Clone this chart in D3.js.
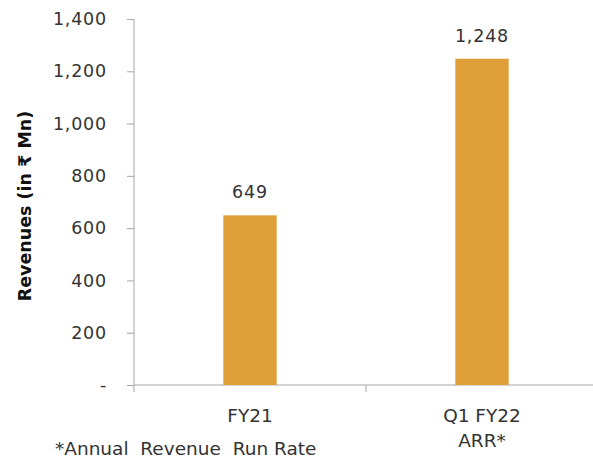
<!DOCTYPE html>
<html>
<head>
<meta charset="utf-8">
<script src="https://cdn.jsdelivr.net/npm/d3@7"></script>
<style>
  html, body { margin: 0; padding: 0; background: #fff; overflow: hidden; }
  svg { display: block; font-family: "DejaVu Sans", "Noto Sans", sans-serif; }
</style>
</head>
<body>
<div id="chart"></div>
<script>
const categories = [["FY21"], ["Q1 FY22", "ARR*"]];
const revenues = [649, 1248];
const yTicks = [0, 200, 400, 600, 800, 1000, 1200, 1400];
const yTitle = "Revenues (in ₹ Mn)";
const footnote = "*Annual  Revenue  Run Rate";

const width = 593;
const height = 463;
const margin = { top: 19, right: 0, bottom: 78, left: 134 };
const innerWidth = width - margin.left - margin.right;
const innerHeight = height - margin.top - margin.bottom;

const svg = d3
  .select("#chart")
  .append("svg")
  .attr("width", width)
  .attr("height", height);

const chart = svg
  .append("g")
  .attr("transform", `translate(${margin.left}, ${margin.top})`);

// categories are split evenly over the plot width plus a few pixels past the edge
const bandWidth = 232;

const band = d3
  .scaleBand()
  .domain(categories.map((c) => c.join(" ")))
  .range([0, bandWidth * categories.length]);

const x = d3
  .scaleBand()
  .domain(band.domain())
  .range(band.range())
  .paddingInner(0.77)
  .paddingOuter(0.385);

const y = d3.scaleLinear().domain([0, 1400]).range([innerHeight, 0]);

const fmt = d3.format(",");
const axisColor = "#a6a6a6";
const textColor = "#333";

// y axis
chart
  .append("g")
  .call(
    d3.axisLeft(y)
      .tickValues(yTicks)
      .tickSize(7)
      .tickPadding(20)
      .tickFormat((v) => (v === 0 ? "-" : fmt(v))),
  )
  .call((g) => g.select(".domain").attr("stroke", axisColor).attr("d", `M0,0V${innerHeight + 7}`))
  .call((g) => g.selectAll(".tick line").attr("stroke", axisColor))
  .call((g) =>
    g.selectAll("text")
      .attr("fill", textColor)
      .attr("font-size", 17.5)
      .attr("letter-spacing", 0.8)
      .attr("font-family", "DejaVu Sans"),
  );

// x axis
const xAxis = chart
  .append("g")
  .attr("transform", `translate(0, ${innerHeight})`);

xAxis
  .append("line")
  .attr("x1", 0)
  .attr("x2", innerWidth)
  .attr("stroke", axisColor);

xAxis
  .selectAll("line.tick")
  .data(band.domain().slice(1))
  .enter()
  .append("line")
  .attr("class", "tick")
  .attr("x1", (d) => band(d))
  .attr("x2", (d) => band(d))
  .attr("y2", 7)
  .attr("stroke", axisColor);

xAxis
  .selectAll("text.cat")
  .data(categories)
  .enter()
  .append("text")
  .attr("class", "cat")
  .attr("text-anchor", "middle")
  .attr("fill", textColor)
  .attr("font-size", 18.5)
  .attr("transform", (c) => `translate(${band(c.join(" ")) + band.bandwidth() / 2}, 37)`)
  .selectAll("tspan")
  .data((c) => c)
  .enter()
  .append("tspan")
  .attr("x", 0)
  .attr("y", (d, i) => i * 25)
  .text((d) => d);

// bars
chart
  .selectAll("rect.bar")
  .data(revenues)
  .enter()
  .append("rect")
  .attr("class", "bar")
  .attr("x", (d, i) => x(categories[i].join(" ")))
  .attr("y", (d) => y(d))
  .attr("width", x.bandwidth())
  .attr("height", (d) => innerHeight - y(d))
  .attr("fill", "#dfa03a");

chart
  .selectAll("text.value")
  .data(revenues)
  .enter()
  .append("text")
  .attr("class", "value")
  .attr("x", (d, i) => x(categories[i].join(" ")) + x.bandwidth() / 2)
  .attr("y", (d) => y(d) - 17)
  .attr("text-anchor", "middle")
  .attr("fill", textColor)
  .attr("font-size", 17.5)
  .attr("letter-spacing", 0.8)
  .text((d) => fmt(d));

// y title
svg
  .append("text")
  .attr("transform", "translate(31, 206) rotate(-90)")
  .attr("text-anchor", "middle")
  .attr("fill", "#111")
  .attr("font-size", 17.5)
  .attr("font-weight", "bold")
  .text(yTitle);

// footnote
svg
  .append("text")
  .attr("x", 55)
  .attr("y", 455)
  .attr("fill", textColor)
  .attr("font-size", 18.5)
  .attr("xml:space", "preserve")
  .style("white-space", "pre")
  .text(footnote);
</script>
</body>
</html>
